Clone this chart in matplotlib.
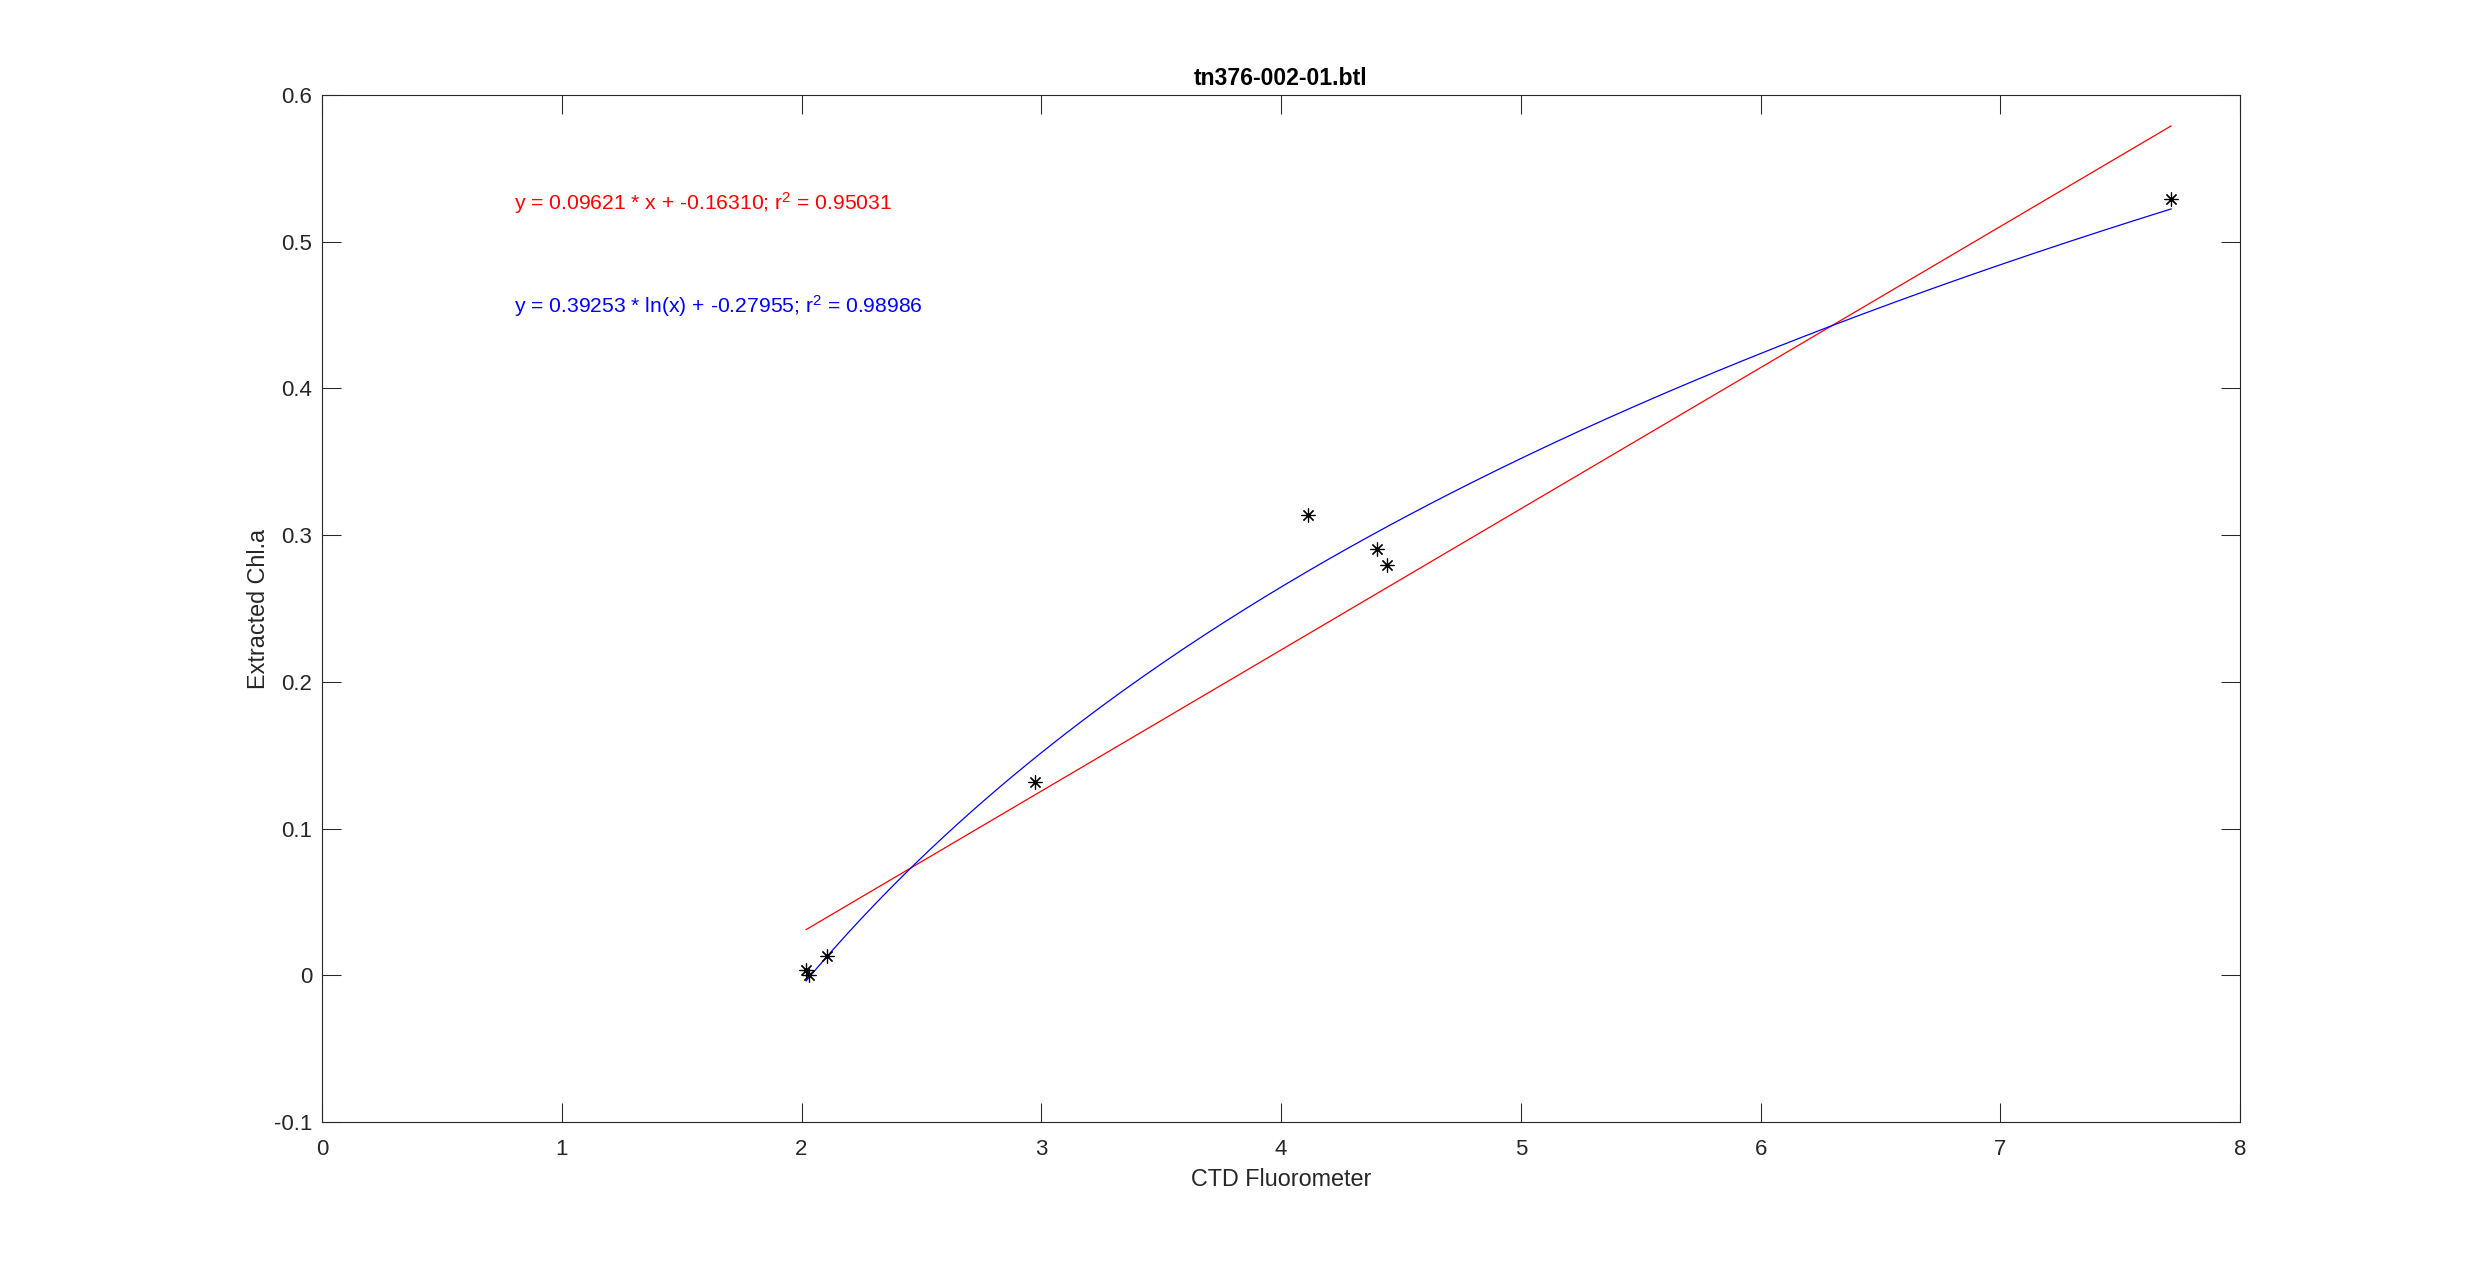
import numpy as np
import matplotlib
matplotlib.use('Agg')
import matplotlib.pyplot as plt

# bottle samples: CTD fluorometer vs extracted chl-a
ctd_fluor = [2.019, 2.031, 2.105, 2.974, 4.114, 4.401, 4.441, 7.712]
chl_a = [0.0036, 0.0002, 0.0132, 0.132, 0.3138, 0.2908, 0.2797, 0.5292]

# fit coefficients as printed on the chart
lin_coef = [0.09621, -0.16310]   # slope, intercept
lin_r2 = 0.95031
log_coef = [0.39253, -0.27955]   # a * ln(x) + b
log_r2 = 0.98986

x_ticks = [0, 1, 2, 3, 4, 5, 6, 7, 8]
y_ticks = [-0.1, 0, 0.1, 0.2, 0.3, 0.4, 0.5, 0.6]
y_tick_labels = ['-0.1', '0', '0.1', '0.2', '0.3', '0.4', '0.5', '0.6']

plt.rcParams['font.family'] = ['Liberation Sans', 'DejaVu Sans']
plt.rcParams['mathtext.default'] = 'regular'

ax_col = '#262626'
fig = plt.figure(figsize=(24.75, 12.61), dpi=100)
ax = fig.add_axes([0.1301, 0.1102, 0.775, 0.8145])

xs = np.linspace(min(ctd_fluor), max(ctd_fluor), 200)
ax.plot(xs, lin_coef[0] * xs + lin_coef[1], color='red', lw=0.9)
ax.plot(xs, log_coef[0] * np.log(xs) + log_coef[1], color='blue', lw=0.9)
ax.plot(ctd_fluor, chl_a, linestyle='none', marker=(8, 2, 0), ms=10,
        mew=0.85, color='black')

ax.text(0.8, 0.5265, 'y = %.5f * x + %.5f; r$^2$ = %.5f' % (lin_coef[0], lin_coef[1], lin_r2),
        color='red', fontsize=15.2, ha='left', va='center')
ax.text(0.8, 0.4558, 'y = %.5f * ln(x) + %.5f; r$^2$ = %.5f' % (log_coef[0], log_coef[1], log_r2),
        color='blue', fontsize=15.2, ha='left', va='center')

ax.set_xlim(0, 8)
ax.set_ylim(-0.1, 0.6)
ax.set_xticks(x_ticks)
ax.set_yticks(y_ticks)
ax.set_yticklabels(y_tick_labels)
ax.tick_params(direction='in', length=13.7, width=0.75, colors=ax_col,
               labelsize=16, top=True, right=True)
ax.tick_params(axis='x', pad=12)
ax.tick_params(axis='y', pad=7)
for sp in ax.spines.values():
    sp.set_color(ax_col)
    sp.set_linewidth(0.8)

ax.set_xlabel('CTD Fluorometer', fontsize=16.8, color=ax_col, labelpad=6)
ax.set_ylabel('Extracted Chl.a', fontsize=16.8, color=ax_col, labelpad=3)
ax.set_title('tn376-002-01.btl', fontsize=16.6, fontweight='bold', pad=7)

fig.savefig('out.png', dpi=100)
